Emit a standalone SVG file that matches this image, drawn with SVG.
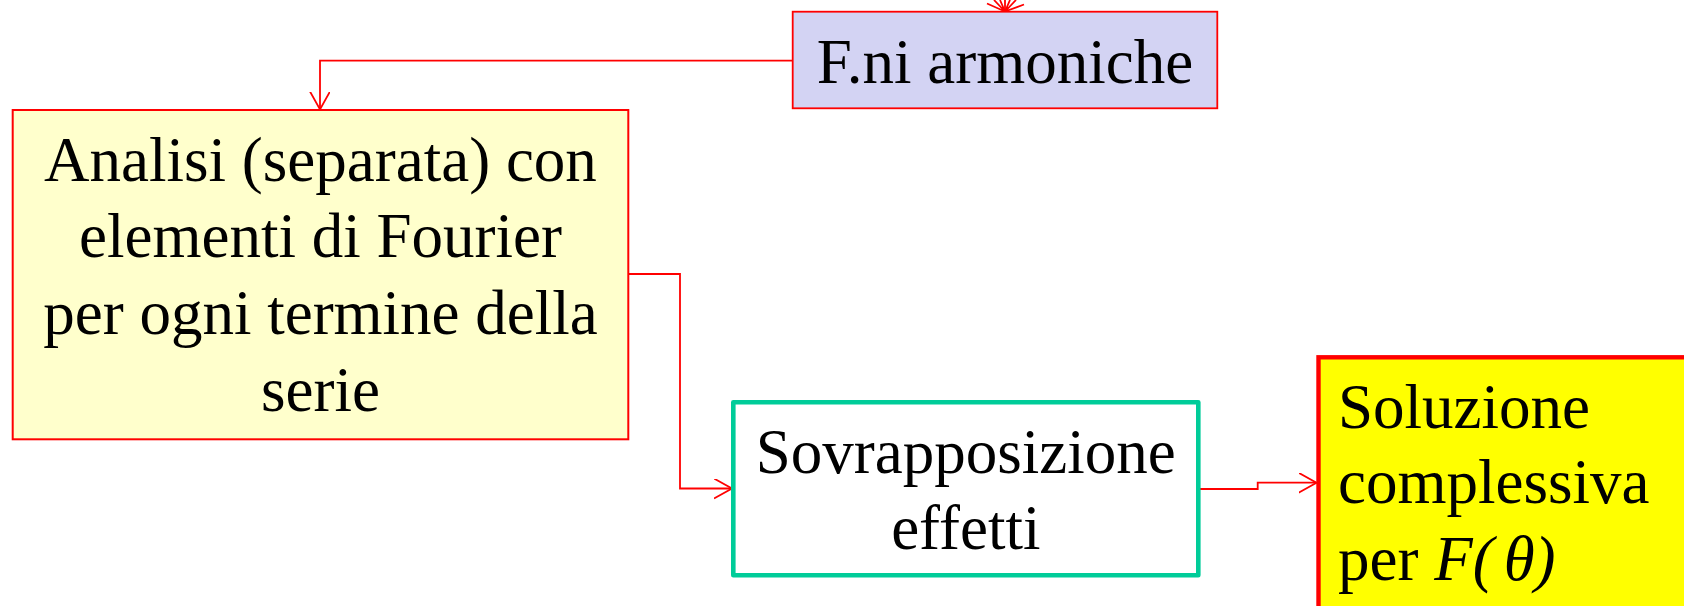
<svg xmlns="http://www.w3.org/2000/svg" width="1684" height="606" viewBox="0 0 1684 606">
<style>
.t{font-family:"Liberation Serif","Times New Roman",serif;font-size:63px;fill:#000}
.c{text-anchor:middle}
.conn{fill:none;stroke:#FF0000;stroke-width:1.8}
</style>
<defs>
<marker id="arr" markerWidth="20" markerHeight="22" refX="18" refY="10" orient="auto" markerUnits="userSpaceOnUse">
<path d="M0,0 L18,10 L0,20" fill="none" stroke="#FF0000" stroke-width="1.8"/>
</marker>
</defs>
<rect width="1684" height="606" fill="#FFFFFF"/>
<g id="connectors">
<path class="conn" d="M1005,0 L1005,11.5"/>
<path class="conn" d="M987,3.5 L1005,11.5 L994,0 M1000,0 L1005,11.5 L1010,0 M1016,0 L1005,11.5 L1024,4.5"/>
<path class="conn" d="M792.7,60.7 L320,60.7 L320,109.5" marker-end="url(#arr)"/>
<path class="conn" d="M628.3,274 L680,274 L680,488.5 L732,488.5" marker-end="url(#arr)"/>
<path class="conn" d="M1198.3,489 L1257.7,489 L1257.7,482.7 L1316.5,482.7" marker-end="url(#arr)"/>
</g>
<g id="node-fni">
<rect x="792.7" y="11.7" width="424.6" height="96.6" fill="#D3D3F3" stroke="#FF0000" stroke-width="1.8"/>
<text class="t c" x="1005" y="82.7">F.ni armoniche</text>
</g>
<g id="node-analisi">
<rect x="12.7" y="110" width="615.6" height="329.3" fill="#FFFFCC" stroke="#FF0000" stroke-width="2"/>
<text class="t c" x="320.5" y="181">Analisi (separata) con</text>
<text class="t c" x="320.5" y="257">elementi di Fourier</text>
<text class="t c" x="320.5" y="334">per ogni termine della</text>
<text class="t c" x="320.5" y="411">serie</text>
</g>
<g id="node-sovrapposizione">
<rect x="733.3" y="402.3" width="465" height="173" fill="#FFFFFF" stroke="#00CC99" stroke-width="4.6" stroke-linejoin="round"/>
<text class="t c" x="965.8" y="473.3">Sovrapposizione</text>
<text class="t c" x="965.8" y="549">effetti</text>
</g>
<g id="node-soluzione">
<rect x="1318.5" y="357.3" width="380" height="270" fill="#FFFF00" stroke="#FF0000" stroke-width="4.4"/>
<text class="t" x="1338" y="428.3">Soluzione</text>
<text class="t" x="1338" y="503.3">complessiva</text>
<text class="t" x="1338" y="580">per <tspan font-style="italic">F(</tspan><tspan font-style="italic" dx="10">θ)</tspan></text>
</g>
</svg>
